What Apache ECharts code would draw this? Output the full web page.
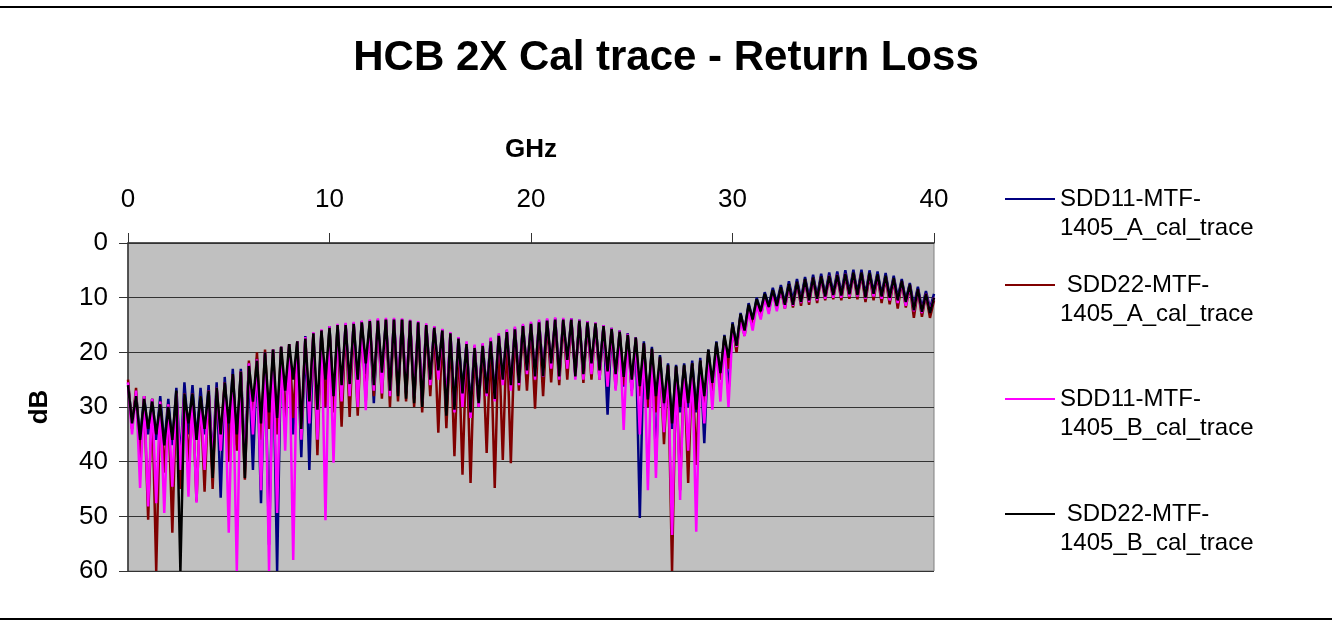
<!DOCTYPE html>
<html>
<head>
<meta charset="utf-8">
<title>HCB 2X Cal trace - Return Loss</title>
<script src="https://cdn.jsdelivr.net/npm/echarts@6/dist/echarts.min.js"></script>
<style>
  html, body { margin: 0; padding: 0; background: #fff; }
  #chart { width: 1332px; height: 621px; }
</style>
</head>
<body>
<div id="chart"></div>
<script>
// sweep grid: one sample every 0.2 GHz, 0..40 GHz (201 points)
const FREQ_STEP = 0.2
const X_TICKS = [0, 10, 20, 30, 40]
const Y_TICKS = [0, 10, 20, 30, 40, 50, 60]

const SERIES_NAMES = [
  'SDD11-MTF-1405_A_cal_trace',
  ' SDD22-MTF-1405_A_cal_trace',
  'SDD11-MTF-1405_B_cal_trace',
  ' SDD22-MTF-1405_B_cal_trace'
]
const SERIES_COLORS = ['#000080', '#800000', '#ff00ff', '#000000']

// dB values, 10 per row = 2 GHz per row
const SDD11_A = [
  25.5, 33, 27.5, 36, 28, 35, 28.5, 36, 28, 37,
  28.5, 37, 26.5, 40, 25.5, 35, 26, 36, 26.5, 35,
  26, 40, 25.5, 46.6, 24.5, 36, 23, 37, 23, 40,
  22, 41.5, 21, 47.6, 20.5, 55.2, 19.5, 60, 19, 34,
  18.5, 35, 18, 39.2, 17, 41.5, 16.5, 34, 16, 30,
  15.2, 30, 15, 28, 14.8, 27, 14.6, 26, 14.3, 24,
  14.2, 29.3, 14, 25, 14, 27.5, 13.9, 27, 14, 27.5,
  14.2, 28.5, 14.5, 29, 15, 25, 15.3, 24, 15.8, 30,
  16.5, 30, 17.3, 27, 18.3, 30, 18.8, 28.5, 18.5, 27,
  17.5, 28, 16.8, 25, 16, 26.5, 15.5, 25, 15, 23.5,
  14.7, 25, 14.3, 24, 14, 23, 13.8, 24, 14, 22,
  13.8, 24, 14, 24.5, 14.3, 23, 14.6, 23.5, 15, 31.4,
  15.5, 25, 16, 26.3, 16.5, 27, 17.2, 50.3, 18, 30,
  19, 39.7, 20.5, 31, 22, 34, 22.3, 31, 22, 30,
  21.5, 31, 21, 36.6, 19.5, 27, 18, 25, 16.8, 27.4,
  14.5, 19, 12.8, 16, 11, 14, 10, 12.5, 9, 11.5,
  8.2, 11, 7.7, 11, 7, 10.5, 6.6, 10.3, 6.2, 10,
  5.8, 9.8, 5.6, 9.5, 5.4, 9.2, 5.2, 9.3, 5, 9,
  4.9, 9.2, 4.9, 9.5, 5, 9, 5.2, 9.5, 5.5, 9.8,
  6, 10, 6.6, 10.5, 7.3, 11.5, 8, 12, 8.8, 12,
  9.3
]

const SDD22_A = [
  25, 34, 26.5, 40, 28, 50.6, 28.5, 60, 29, 42,
  29.5, 53, 27.5, 45, 27.5, 40, 27.5, 47.3, 28, 45.5,
  27, 45, 26.5, 36, 25.5, 40, 24, 38, 23.5, 43.3,
  21.5, 33, 20, 36, 19.5, 34, 19.5, 35, 19, 33,
  18.5, 32, 18, 35, 17.5, 32, 16.5, 38.8, 16, 30,
  15.5, 31, 15.2, 33.6, 15, 31.8, 14.8, 31.6, 14.5, 29,
  14.4, 28, 14.2, 28.5, 14, 30, 14.2, 29, 14, 29,
  14.3, 30, 14.7, 31, 15.2, 28, 15.6, 34.7, 16.2, 33.9,
  16.8, 39, 17.7, 42.4, 18.5, 43.9, 19, 30, 18.7, 38.4,
  17.8, 44.8, 17, 39.7, 16.3, 40.3, 15.8, 27, 15.3, 27,
  15, 30.3, 14.6, 28, 14.3, 25.5, 14.2, 26, 14.2, 25,
  14.2, 24, 14.4, 25.6, 14.6, 25, 14.8, 25, 15.3, 26,
  15.8, 26.6, 16.3, 26, 16.8, 27, 17.5, 28, 18.5, 30,
  19.5, 31, 21, 36.8, 22.5, 60, 22.7, 45.2, 22.5, 43.9,
  22, 40.6, 21.5, 30, 19.8, 28, 18.5, 25, 17.3, 23,
  15, 20, 13.2, 17, 11.5, 15, 10.5, 13.5, 9.5, 12.5,
  8.8, 12, 8.3, 12, 7.7, 11.8, 7.3, 11.5, 6.8, 11.3,
  6.5, 11, 6.3, 10.5, 6.2, 10.3, 6, 10.5, 5.9, 10.2,
  5.7, 10.3, 5.7, 10.8, 5.8, 10.5, 6, 11, 6.3, 11.2,
  6.7, 12, 7.2, 11.8, 7.9, 13.7, 8.7, 13.5, 9.5, 13.7,
  10.5
]

const SDD11_B = [
  25.5, 35, 27, 44.8, 28, 48.2, 28.5, 47.6, 29, 49.4,
  29.5, 44.6, 27.5, 41.5, 27.5, 46.4, 27.5, 47.5, 28, 41.5,
  27, 40, 26.5, 38, 25.5, 53, 24, 60, 23.5, 41,
  22, 35, 21.3, 45.2, 20, 60, 19.5, 49.4, 19, 38,
  18.5, 58, 18, 36, 17.2, 33, 16.3, 36, 15.8, 50.7,
  15.2, 40.2, 14.8, 29, 14.6, 28, 14.4, 30, 14.2, 30.6,
  14, 27, 13.8, 27.5, 13.7, 28, 13.7, 27, 13.8, 27,
  14, 28, 14.3, 29, 14.7, 26, 15.2, 25, 15.7, 30,
  16.3, 31, 17.2, 30, 18, 32, 18.6, 30, 18.3, 28,
  17.3, 29, 16.5, 26, 15.8, 27, 15.3, 26, 14.8, 24,
  14.4, 25, 14, 24.5, 13.8, 23, 13.6, 25, 13.7, 23,
  13.8, 25, 14, 25, 14.3, 24, 14.5, 25, 15, 26.3,
  15.5, 27, 16, 34.2, 16.6, 28, 17.3, 35, 18.3, 45.2,
  19.5, 43, 21, 34.6, 22.5, 53.4, 23, 47, 22.8, 38,
  22.5, 52.8, 22, 33, 20.5, 30.5, 19, 29, 17.8, 30,
  16, 19, 14.5, 17, 12.5, 16, 11.3, 14, 10, 13,
  9, 12.5, 8.3, 12, 7.7, 11.5, 7.2, 11, 6.8, 10.8,
  6.4, 10.5, 6.2, 10.2, 6, 10, 5.8, 10, 5.6, 9.8,
  5.5, 9.8, 5.5, 10.2, 5.6, 9.8, 5.8, 10.2, 6.1, 10.5,
  6.5, 11, 7, 11.5, 7.7, 12.5, 8.5, 12.8, 9.3, 12.5,
  10
]

const SDD22_B = [
  26, 33, 28, 36, 28.5, 34, 29, 35, 29.5, 37,
  30, 36, 27, 60, 27.5, 33, 27.5, 36, 28, 34,
  27, 43, 26.5, 35, 25.5, 33, 24, 35, 23.5, 43,
  22.5, 29, 21.5, 33, 20, 31, 19.5, 32, 19, 27,
  18.5, 25, 18, 34, 17.5, 29, 16.5, 30.5, 16, 25,
  15.5, 28, 15, 26, 15, 25.8, 14.8, 25, 14.5, 22,
  14.3, 26, 14.2, 23.7, 14, 27, 14, 28, 14, 28.5,
  14.2, 29.3, 14.5, 30, 15, 25, 15.5, 23.3, 16, 31.6,
  16.5, 30.5, 17.5, 27.5, 18.5, 31, 19.2, 29.3, 18.8, 27.5,
  18, 28.5, 17, 25, 16.3, 26, 15.8, 25.6, 15.2, 23.3,
  14.8, 24.4, 14.5, 24.4, 14.2, 22, 14, 24.4, 14, 21.4,
  14, 24.4, 14.2, 24, 14.5, 22, 14.7, 23.3, 15.2, 23.5,
  15.7, 24, 16.2, 24.5, 16.8, 25, 17.3, 26.2, 18.3, 28.6,
  19.3, 28, 20.8, 29.3, 22.3, 33, 22.5, 30, 22.3, 29.3,
  22, 30.5, 21.5, 28, 19.5, 25.6, 18.2, 23.8, 17, 21,
  14.8, 18.8, 13, 16, 11.3, 14, 10.3, 12.5, 9.3, 11.7,
  8.6, 11.5, 8.1, 11.3, 7.5, 11.3, 7.1, 10.8, 6.6, 10.5,
  6.3, 10.2, 6.1, 9.8, 6, 9.5, 5.8, 9.6, 5.6, 9.4,
  5.4, 9.5, 5.4, 10, 5.5, 9.3, 5.7, 9.8, 6, 10,
  6.4, 10.5, 6.9, 10.8, 7.6, 12.3, 8.4, 12.6, 9.3, 12.8,
  10
]

const SERIES_VALUES = [SDD11_A, SDD22_A, SDD11_B, SDD22_B]
// legend line centres (px from top)
const LEGEND_Y = [199, 285, 399, 514]

const FONT = '"Liberation Sans", Arial, sans-serif'
const LEGEND_LINE_H = 29

function toPairs(vals) {
  return vals.map((v, i) => [Math.round(i * FREQ_STEP * 10) / 10, v])
}

const chart = echarts.init(document.getElementById('chart'), null, { renderer: 'canvas' })

// one legend per entry so each can sit where the original has it;
// an empty first line keeps the first text line level with the swatch
const legends = SERIES_NAMES.map((name, i) => ({
  data: [name],
  left: 1005,
  top: LEGEND_Y[i] - LEGEND_LINE_H * 1.5,
  padding: 0,
  icon: 'rect',
  itemWidth: 50,
  itemHeight: 2,
  itemGap: 0,
  formatter: n => '\n' + n.replace('MTF-', 'MTF-\n'),
  textStyle: {
    fontFamily: FONT,
    fontSize: 24,
    lineHeight: LEGEND_LINE_H,
    color: '#000'
  }
}))

chart.setOption({
  animation: false,
  backgroundColor: '#fff',
  textStyle: { fontFamily: FONT },
  title: {
    text: 'HCB 2X Cal trace - Return Loss',
    left: 'center',
    top: 32,
    textStyle: { fontFamily: FONT, fontSize: 42, fontWeight: 'bold', color: '#000' }
  },
  legend: legends,
  grid: {
    left: 128,
    top: 243,
    width: 806,
    height: 328,
    show: true,
    backgroundColor: '#c0c0c0',
    borderColor: '#808080',
    borderWidth: 1
  },
  xAxis: {
    type: 'value',
    position: 'top',
    min: X_TICKS[0],
    max: X_TICKS[X_TICKS.length - 1],
    interval: X_TICKS[1] - X_TICKS[0],
    name: 'GHz',
    nameLocation: 'middle',
    nameGap: 80,
    nameTextStyle: { fontFamily: FONT, fontSize: 26, fontWeight: 'bold', color: '#000' },
    axisLine: { show: true, lineStyle: { color: '#333', width: 1.5 } },
    axisTick: { show: true, inside: false, length: 10, lineStyle: { color: '#333' } },
    axisLabel: { fontFamily: FONT, fontSize: 26, color: '#000', margin: 30 },
    splitLine: { show: false }
  },
  yAxis: {
    type: 'value',
    inverse: true,
    min: Y_TICKS[0],
    max: Y_TICKS[Y_TICKS.length - 1],
    interval: Y_TICKS[1] - Y_TICKS[0],
    name: 'dB',
    nameLocation: 'middle',
    nameGap: 75,
    nameRotate: 90,
    nameTextStyle: { fontFamily: FONT, fontSize: 26, fontWeight: 'bold', color: '#000' },
    axisLine: { show: true, lineStyle: { color: '#333', width: 1.5 } },
    axisTick: { show: true, inside: false, length: 9, lineStyle: { color: '#333' } },
    axisLabel: { fontFamily: FONT, fontSize: 26, color: '#000', margin: 20 },
    splitLine: { show: true, lineStyle: { color: '#333', width: 1 } }
  },
  series: SERIES_VALUES.map((vals, i) => ({
    name: SERIES_NAMES[i],
    type: 'line',
    data: toPairs(vals),
    showSymbol: false,
    symbol: 'none',
    color: SERIES_COLORS[i],
    lineStyle: { color: SERIES_COLORS[i], width: 2.5 },
    z: 2 + i
  })),
  graphic: [
    { type: 'line', shape: { x1: 0, y1: 7, x2: 1332, y2: 7 }, style: { stroke: '#000', lineWidth: 2 } },
    { type: 'line', shape: { x1: 0, y1: 619, x2: 1332, y2: 619 }, style: { stroke: '#000', lineWidth: 2 } }
  ]
})
</script>
</body>
</html>
